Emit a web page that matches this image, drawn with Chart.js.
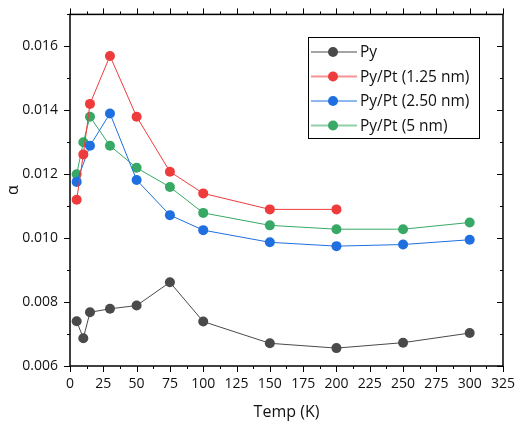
<!DOCTYPE html>
<html>
<head>
<meta charset="utf-8">
<script src="https://cdn.jsdelivr.net/npm/chart.js@4/dist/chart.umd.min.js"></script>
<style>
  html, body { margin: 0; padding: 0; background: #fff; }
  #wrap { width: 519px; height: 426px; position: relative; }
</style>
</head>
<body>
<div id="wrap"><canvas id="chart" width="519" height="426"></canvas></div>
<script>
// values
const temps = [5, 10, 15, 30, 50, 75, 100, 150, 200, 250, 300];
const py       = [0.0074, 0.00687, 0.00768, 0.00779, 0.00789, 0.00862, 0.00739, 0.00671, 0.00656, 0.00673, 0.00703];
const pyPt125  = [0.0112, 0.01262, 0.0142, 0.0157, 0.0138, 0.01208, 0.0114, 0.0109, 0.0109, null, null];
const pyPt250  = [0.01176, null, 0.01289, 0.0139, 0.01182, 0.01072, 0.01025, 0.00987, 0.00975, 0.0098, 0.00995];
const pyPt5    = [0.012, 0.0130, 0.0138, 0.01289, 0.0122, 0.0116, 0.01079, 0.0104, 0.01028, 0.01028, 0.01049];
const seriesNames = ["Py", "Py/Pt (1.25 nm)", "Py/Pt (2.50 nm)", "Py/Pt (5 nm)"];
const colors = ["#4a4a4a", "#ee3b3b", "#1f6fe0", "#37a865"];

function toPoints(vals) {
  return temps.map((t, i) => ({ x: t, y: vals[i] })).filter(p => p.y !== null);
}

const makeSet = (i, vals) => ({
  label: seriesNames[i],
  data: toPoints(vals),
  borderColor: colors[i],
  backgroundColor: colors[i],
  borderWidth: 1,
  pointRadius: 5,
  pointBorderWidth: 0,
  tension: 0
});

const font = "'Open Sans', 'DejaVu Sans', sans-serif";

// minor ticks, mirror axes and the boxed legend
const framePlugin = {
  id: "frame",
  afterDraw(chart) {
    const ctx = chart.ctx;
    const a = chart.chartArea;
    const xs = chart.scales.x, ys = chart.scales.y;
    ctx.save();
    ctx.strokeStyle = "#000";
    ctx.lineWidth = 1.5;
    ctx.strokeRect(a.left, a.top, a.right - a.left, a.bottom - a.top);
    ctx.lineWidth = 1;
    for (let v = 0; v <= 325.01; v += 12.5) {
      const px = Math.round(xs.getPixelForValue(v)) + 0.5;
      const major = Math.abs(v % 25) < 0.01;
      const len = major ? 6 : 3;
      ctx.beginPath();
      ctx.moveTo(px, a.bottom); ctx.lineTo(px, a.bottom + len);
      ctx.moveTo(px, a.top); ctx.lineTo(px, a.top - len);
      ctx.stroke();
    }
    for (let v = 0.006; v <= 0.01701; v += 0.001) {
      const py = Math.round(ys.getPixelForValue(v)) + 0.5;
      const major = Math.round(v * 1000) % 2 === 0;
      const len = major ? 6 : 3;
      ctx.beginPath();
      ctx.moveTo(a.left, py); ctx.lineTo(a.left - len, py);
      ctx.moveTo(a.right, py); ctx.lineTo(a.right - len, py);
      ctx.stroke();
    }
    // legend
    const lx = 308, ly = 37, lw = 171, lh = 101;
    ctx.fillStyle = "#fff";
    ctx.fillRect(lx, ly, lw, lh);
    ctx.lineWidth = 1;
    ctx.strokeStyle = "#000";
    ctx.strokeRect(lx + 0.5, ly + 0.5, lw, lh);
    ctx.font = "15.5px " + font;
    ctx.textBaseline = "middle";
    chart.data.datasets.forEach((ds, i) => {
      const y = ly + 15 + i * 24.5;
      ctx.strokeStyle = ds.borderColor;
      ctx.globalAlpha = (i % 2 === 1) ? 0.55 : 1;
      ctx.lineWidth = (i % 2 === 1) ? 2 : 1;
      ctx.beginPath();
      ctx.moveTo(lx + 3, y); ctx.lineTo(lx + 49, y);
      ctx.stroke();
      ctx.globalAlpha = 1;
      ctx.fillStyle = ds.backgroundColor;
      ctx.beginPath();
      ctx.arc(lx + 25, y, 5, 0, Math.PI * 2);
      ctx.fill();
      ctx.fillStyle = "#111";
      ctx.fillText(ds.label, lx + 52, y + 1);
    });
    ctx.restore();
  }
};

new Chart(document.getElementById("chart"), {
  type: "line",
  data: {
    datasets: [makeSet(0, py), makeSet(1, pyPt125), makeSet(2, pyPt250), makeSet(3, pyPt5)]
  },
  options: {
    responsive: false,
    animation: false,
    layout: { padding: { top: 14, right: 11, left: 0, bottom: 0 } },
    plugins: { legend: { display: false }, tooltip: { enabled: false } },
    scales: {
      x: {
        type: "linear",
        min: 0, max: 325,
        ticks: { stepSize: 25, color: "#111", font: { family: font, size: 14 }, padding: 4, maxRotation: 0 },
        grid: { display: false, drawTicks: true, tickLength: 6 },
        border: { display: false },
        title: { display: true, text: "Temp (K)", color: "#111", font: { family: font, size: 16 }, padding: { top: 8 } },
        afterFit(s) { s.height = 60; }
      },
      y: {
        type: "linear",
        min: 0.006, max: 0.017,
        ticks: {
          stepSize: 0.002, color: "#111", font: { family: font, size: 14 }, padding: 6,
          callback: v => (Math.abs((v * 1000) % 2) < 1e-6 || Math.abs((v * 1000) % 2 - 2) < 1e-6) ? v.toFixed(3) : ""
        },
        grid: { display: false, tickLength: 6 },
        border: { display: false },
        title: { display: true, text: "α", color: "#111", font: { family: font, size: 16 }, padding: { bottom: 2 } },
        afterFit(s) { s.width = 70; }
      }
    }
  },
  plugins: [framePlugin]
});
</script>
</body>
</html>
